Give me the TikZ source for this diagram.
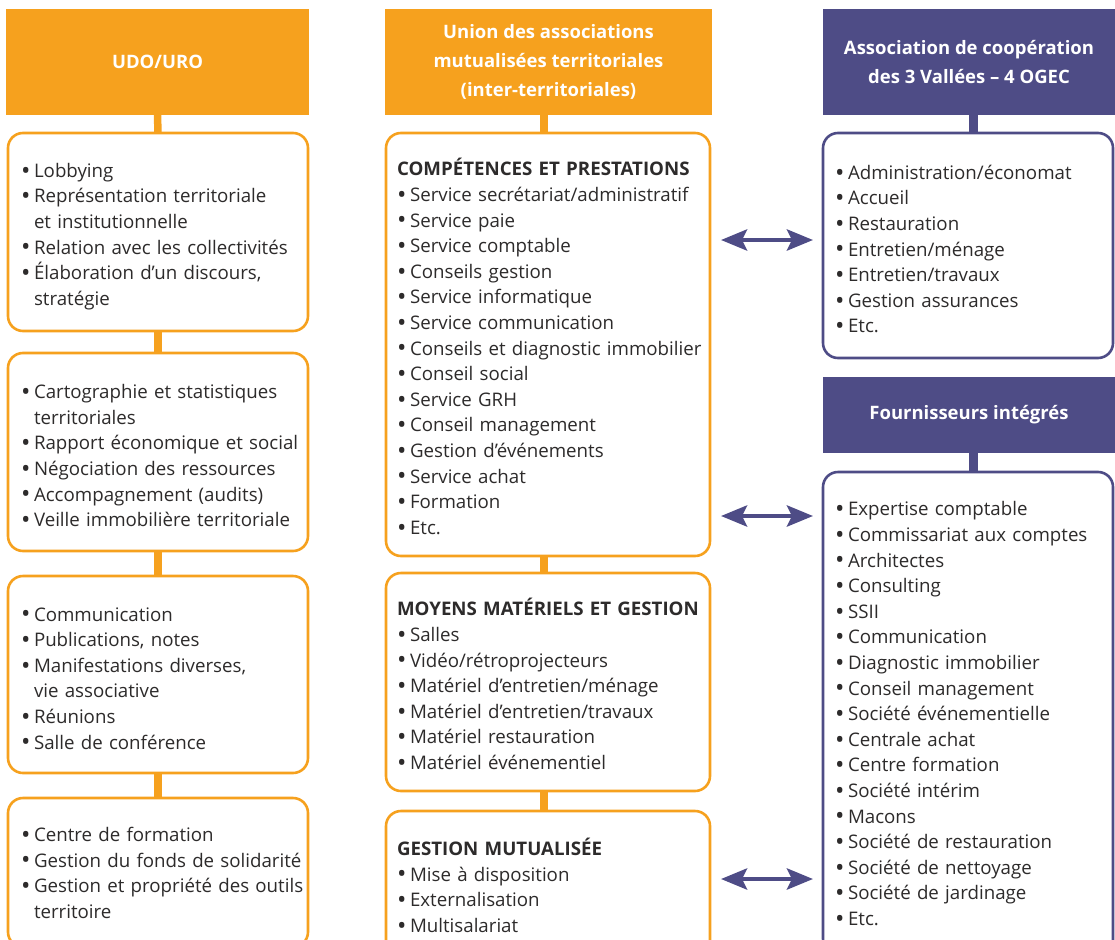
\documentclass[tikz,border=0pt]{standalone}
\usepackage{fontspec}
\setmainfont{Open Sans}
\usetikzlibrary{arrows.meta,positioning}
\definecolor{uorange}{RGB}{246,161,30}
\definecolor{upurple}{RGB}{78,76,134}
\definecolor{utext}{RGB}{45,43,43}
\newcommand{\itm}[1]{\mbox{\makebox[13pt][l]{\raisebox{-1.8pt}{\fontsize{25}{25}\selectfont\textbullet}}#1}}
\newcommand{\cnt}[1]{\mbox{\hspace*{13pt}#1}}
\newcommand{\ttl}[1]{\mbox{\bfseries #1}}
\newcommand{\cardstrut}{23pt}
\tikzset{
  head/.style={fill=#1, draw=none, anchor=north west, inner sep=0pt, outer sep=0pt,
    text=white, align=center, font=\bfseries\fontsize{18.5}{29}\selectfont},
  topstrut/.code={\def\cardstrut{#1}},
  card/.style={draw=#1, line width=2.6pt, rounded corners=15pt, fill=white,
    anchor=north west, outer sep=0pt, inner ysep=0pt, align=left, text=utext,
    font=\fontsize{18.7}{25.6}\selectfont, topstrut=23pt,
    execute at begin node={\rule{0pt}{\cardstrut}}},
  lcard/.style={card=uorange, inner xsep=13pt, text width=274pt, minimum width=300pt},
  mcard/.style={card=uorange, inner xsep=11pt, text width=302pt, minimum width=324pt},
  rcard/.style={card=upurple, inner xsep=12pt, text width=266pt, minimum width=290pt},
  ostub/.style={draw=uorange, line width=7.5pt},
  pstub/.style={draw=upurple, line width=8.5pt},
  biarrow/.style={draw=upurple, line width=4.5pt, shorten <=11pt, shorten >=10pt,
    {Stealth[length=26pt,width=21pt,inset=5pt]}-{Stealth[length=26pt,width=21pt,inset=5pt]}}
}
\begin{document}
\begin{tikzpicture}[x=1pt,y=-1pt]
  \useasboundingbox (0,0) rectangle (1115,939);
  \clip (0,0) rectangle (1115,939);

  \node[head=uorange, minimum width=303pt, minimum height=106pt] (udo) at (6,9) {UDO/URO};
  \node[head=uorange, minimum width=327pt, minimum height=106pt] (aum) at (385,9)
    {Union des associations\\mutualisées territoriales\\(inter-territoriales)};
  \node[head=upurple, minimum width=292pt, minimum height=106pt] (coop) at (823,9)
    {Association de coopération\\des 3 Vallées – 4 OGEC};
  \node[head=upurple, minimum width=292pt, minimum height=76pt] (four) at (823,377)
    {Fournisseurs intégrés};

  \node[lcard, minimum height=198pt] (udo1) at (8,133) {\itm{Lobbying}\\
    \itm{Représentation territoriale}\\ \cnt{et institutionnelle}\\
    \itm{Relation avec les collectivités}\\ \itm{Élaboration d’un discours,}\\ \cnt{stratégie}};
  \node[lcard, minimum height=198pt] (udo2) at (8,353) {\itm{Cartographie et statistiques}\\
    \cnt{territoriales}\\ \itm{Rapport économique et social}\\ \itm{Négociation des ressources}\\
    \itm{Accompagnement (audits)}\\ \itm{Veille immobilière territoriale}};
  \node[lcard, minimum height=197pt] (udo3) at (8,576) {\itm{Communication}\\
    \itm{Publications, notes}\\ \itm{Manifestations diverses,}\\ \cnt{vie associative}\\
    \itm{Réunions}\\ \itm{Salle de conférence}};
  \node[lcard, minimum height=149pt, topstrut=15pt] (udo4) at (8,798) {\itm{Centre de formation}\\
    \itm{Gestion du fonds de solidarité}\\ \itm{Gestion et propriété des outils}\\ \cnt{territoire}};

  \node[mcard, minimum height=423pt] (comp) at (386,133) {\ttl{COMPÉTENCES ET PRESTATIONS}\\
    \itm{Service secrétariat/administratif}\\ \itm{Service paie}\\ \itm{Service comptable}\\
    \itm{Conseils gestion}\\ \itm{Service informatique}\\ \itm{Service communication}\\
    \itm{Conseils et diagnostic immobilier}\\ \itm{Conseil social}\\ \itm{Service GRH}\\
    \itm{Conseil management}\\ \itm{Gestion d’événements}\\ \itm{Service achat}\\
    \itm{Formation}\\ \itm{Etc.}};
  \node[mcard, minimum height=218pt] (moy) at (386,573) {\ttl{MOYENS MATÉRIELS ET GESTION}\\
    \itm{Salles}\\ \itm{Vidéo/rétroprojecteurs}\\ \itm{Matériel d’entretien/ménage}\\
    \itm{Matériel d’entretien/travaux}\\ \itm{Matériel restauration}\\ \itm{Matériel événementiel}};
  \node[mcard, minimum height=150pt, topstrut=0pt] (gest) at (386,811) {\ttl{GESTION MUTUALISÉE}\\
    \itm{Mise à disposition}\\ \itm{Externalisation}\\ \itm{Multisalariat}};

  \node[rcard, minimum height=225pt] (coop1) at (823,133) {\itm{Administration/économat}\\
    \itm{Accueil}\\ \itm{Restauration}\\ \itm{Entretien/ménage}\\ \itm{Entretien/travaux}\\
    \itm{Gestion assurances}\\ \itm{Etc.}};
  \node[rcard, minimum height=482pt, topstrut=17pt] (four1) at (823,472) {\itm{Expertise comptable}\\
    \itm{Commissariat aux comptes}\\ \itm{Architectes}\\ \itm{Consulting}\\ \itm{SSII}\\
    \itm{Communication}\\ \itm{Diagnostic immobilier}\\ \itm{Conseil management}\\
    \itm{Société événementielle}\\ \itm{Centrale achat}\\ \itm{Centre formation}\\
    \itm{Société intérim}\\ \itm{Macons}\\ \itm{Société de restauration}\\
    \itm{Société de nettoyage}\\ \itm{Société de jardinage}\\ \itm{Etc.}};

  \coordinate (mx) at (544,0);
  \coordinate (rx) at (973.5,0);
  \draw[ostub] (udo.south) -- (udo1.north);
  \draw[ostub] (udo1.south) -- (udo2.north);
  \draw[ostub] (udo2.south) -- (udo3.north);
  \draw[ostub] (udo3.south) -- (udo4.north);
  \draw[ostub] (aum.south -| mx) -- (comp.north -| mx);
  \draw[ostub] (comp.south -| mx) -- (moy.north -| mx);
  \draw[ostub] (moy.south -| mx) -- (gest.north -| mx);
  \draw[pstub] (coop.south -| rx) -- (coop1.north -| rx);
  \draw[pstub] (four.south -| rx) -- (four1.north -| rx);

  \coordinate (a1) at (0,240);
  \coordinate (a2) at (0,516);
  \coordinate (a3) at (0,879);
  \draw[biarrow] (comp.east |- a1) -- (coop1.west |- a1);
  \draw[biarrow] (comp.east |- a2) -- (four1.west |- a2);
  \draw[biarrow] (gest.east |- a3) -- (four1.west |- a3);
\end{tikzpicture}
\end{document}
